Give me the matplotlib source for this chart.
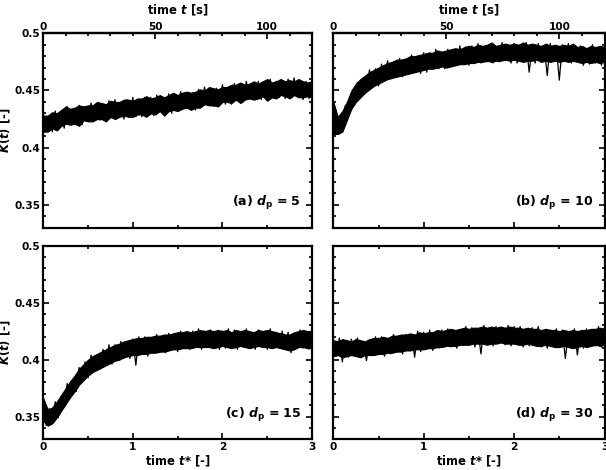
import numpy as np
import matplotlib
matplotlib.use("Agg")
import matplotlib.pyplot as plt
from matplotlib.ticker import MultipleLocator, FuncFormatter

plt.rcParams['font.family'] = ['DejaVu Sans']
plt.rcParams['font.weight'] = 'bold'
plt.rcParams['mathtext.fontset'] = 'custom'
plt.rcParams['mathtext.rm'] = 'DejaVu Sans:bold'
plt.rcParams['mathtext.it'] = 'DejaVu Sans:bold:italic'
plt.rcParams['mathtext.bf'] = 'DejaVu Sans:bold'
plt.rcParams['axes.linewidth'] = 1.6

# time conversion: t [s] = T_SCALE * t* [-]
T_SCALE = 40.0

# ---- raw fluctuating signal, sampled every 1/30 in t* ----
K_a = [.430, .414, .428, .414, .432, .419, .432, .417, .436, .421,
       .433, .420, .437, .420, .436, .423, .439, .426, .438, .424,
       .438, .423, .441, .426, .442, .428, .439, .425, .442, .427,
       .444, .427, .442, .427, .444, .432, .444, .428, .446, .432,
       .443, .431, .447, .430, .446, .433, .449, .436, .448, .434,
       .448, .433, .451, .436, .453, .438, .449, .436, .452, .438,
       .455, .438, .453, .438, .456, .443, .456, .440, .458, .444,
       .455, .442, .458, .442, .457, .444, .460, .446, .458, .444,
       .458, .443, .460, .445, .461, .446, .456, .442, .458, .443,
       .457]

K_b = [.438, .413, .425, .415, .437, .428, .447, .437, .457, .445,
       .461, .449, .468, .456, .469, .454, .473, .460, .476, .460,
       .475, .462, .478, .462, .476, .464, .481, .466, .480, .465,
       .483, .466, .483, .470, .486, .469, .483, .469, .486, .472,
       .485, .472, .489, .475, .488, .472, .489, .475, .491, .474,
       .488, .475, .490, .474, .488, .475, .492, .476, .489, .474,
       .491, .474, .490, .477, .492, .466, .488, .474, .491, .475,
       .488, .463, .491, .477, .489, .459, .490, .476, .491, .474,
       .488, .475, .489, .472, .486, .473, .490, .474, .487, .472,
       .488]

K_c = [.363, .342, .357, .345, .363, .349, .368, .359, .379, .366,
       .382, .372, .393, .382, .398, .384, .404, .390, .404, .392,
       .409, .397, .413, .396, .413, .401, .416, .401, .415, .401,
       .418, .395, .420, .406, .420, .403, .419, .406, .422, .406,
       .419, .406, .423, .409, .423, .407, .425, .410, .423, .409,
       .425, .413, .427, .409, .425, .412, .426, .410, .423, .409,
       .425, .410, .427, .412, .426, .409, .424, .411, .427, .410,
       .423, .409, .426, .412, .425, .409, .427, .411, .424, .410,
       .425, .411, .424, .406, .423, .411, .426, .410, .423, .409,
       .425]

K_d = [.418, .403, .419, .398, .416, .402, .418, .404, .419, .402,
       .415, .399, .417, .404, .420, .405, .420, .403, .418, .405,
       .422, .408, .421, .405, .422, .408, .421, .402, .425, .407,
       .424, .409, .426, .408, .423, .410, .426, .412, .427, .411,
       .424, .410, .426, .413, .429, .414, .428, .411, .426, .405,
       .430, .416, .428, .412, .429, .414, .427, .413, .430, .412,
       .429, .414, .429, .411, .426, .412, .428, .414, .429, .411,
       .424, .410, .426, .412, .427, .412, .426, .401, .424, .410,
       .427, .404, .425, .410, .427, .412, .425, .412, .429, .411,
       .428]

# ---- upper / lower edges of the noise band, sampled every 0.05 in t* ----
Ka_hi = [.428, .428, .431, .430, .433, .436, .434, .435, .437, .436,
         .437, .437, .440, .439, .438, .441, .440, .440, .442, .442,
         .441, .443, .443, .445, .443, .444, .446, .444, .446, .448,
         .446, .448, .449, .448, .449, .451, .450, .453, .452, .451,
         .453, .453, .455, .455, .457, .455, .456, .458, .456, .458,
         .460, .457, .458, .460, .458, .459, .458, .460, .458, .457,
         .458]
Ka_lo = [.414, .414, .417, .415, .419, .421, .420, .421, .419, .424,
         .423, .423, .425, .425, .423, .427, .425, .427, .428, .427,
         .427, .429, .429, .427, .430, .429, .432, .428, .432, .433,
         .432, .434, .435, .433, .435, .435, .438, .437, .437, .436,
         .440, .440, .439, .442, .439, .442, .443, .442, .443, .445,
         .441, .444, .443, .446, .445, .443, .446, .444, .444, .445,
         .444]

Kb_hi = [.440, .427, .432, .440, .450, .456, .460, .463, .466, .468,
         .470, .472, .474, .475, .477, .477, .478, .480, .480, .481,
         .482, .483, .483, .485, .484, .485, .486, .487, .486, .488,
         .489, .488, .490, .489, .490, .492, .489, .490, .491, .490,
         .491, .490, .492, .490, .491, .490, .489, .491, .489, .490,
         .489, .490, .489, .491, .488, .489, .487, .489, .488, .489,
         .488]
Kb_lo = [.412, .412, .414, .424, .434, .440, .444, .448, .451, .454,
         .456, .458, .460, .461, .462, .463, .464, .465, .466, .467,
         .468, .469, .469, .470, .471, .470, .471, .472, .473, .473,
         .474, .474, .475, .475, .476, .475, .476, .476, .477, .476,
         .477, .476, .475, .476, .476, .477, .475, .476, .475, .476,
         .475, .476, .475, .476, .475, .474, .475, .474, .475, .474,
         .475]

Kc_hi = [.366, .356, .358, .363, .369, .375, .381, .386, .392, .396,
         .400, .403, .405, .407, .409, .411, .413, .414, .416, .417,
         .418, .419, .419, .420, .420, .421, .421, .422, .422, .423,
         .424, .424, .425, .424, .425, .426, .425, .426, .425, .426,
         .425, .426, .424, .426, .425, .426, .425, .424, .426, .425,
         .426, .425, .424, .423, .422, .422, .424, .425, .426, .425,
         .425]
Kc_lo = [.346, .342, .344, .349, .355, .361, .367, .372, .378, .382,
         .386, .389, .391, .393, .395, .397, .399, .400, .402, .403,
         .404, .404, .405, .405, .406, .406, .407, .407, .408, .409,
         .409, .410, .410, .410, .411, .411, .411, .411, .410, .411,
         .412, .411, .410, .411, .412, .411, .410, .411, .412, .411,
         .411, .410, .411, .410, .409, .408, .409, .411, .411, .410,
         .411]

Kd_hi = [.417, .416, .418, .417, .416, .418, .417, .416, .418, .419,
         .419, .420, .419, .421, .421, .422, .422, .423, .422, .424,
         .423, .424, .424, .426, .425, .426, .427, .426, .427, .428,
         .427, .428, .428, .429, .428, .429, .428, .429, .428, .429,
         .428, .428, .427, .428, .427, .427, .426, .427, .426, .426,
         .425, .426, .425, .426, .425, .426, .426, .427, .427, .428,
         .427]
Kd_lo = [.403, .404, .402, .403, .404, .403, .402, .404, .404, .404,
         .405, .405, .406, .406, .407, .407, .408, .408, .409, .409,
         .409, .410, .410, .411, .411, .412, .412, .412, .413, .413,
         .413, .414, .414, .414, .413, .414, .414, .415, .414, .414,
         .414, .413, .413, .414, .413, .412, .412, .413, .412, .411,
         .411, .412, .411, .410, .411, .412, .411, .412, .413, .412,
         .413]

panel_labels = [r"(a) $d_{\mathrm{p}}$ = 5", r"(b) $d_{\mathrm{p}}$ = 10",
                r"(c) $d_{\mathrm{p}}$ = 15", r"(d) $d_{\mathrm{p}}$ = 30"]
series = [K_a, K_b, K_c, K_d]
bands = [(Ka_lo, Ka_hi), (Kb_lo, Kb_hi), (Kc_lo, Kc_hi), (Kd_lo, Kd_hi)]

W, H = 606, 470
fig = plt.figure(figsize=(W / 100, H / 100), dpi=100)

def px_box(x0, y0, x1, y1):
    return [x0 / W, 1 - y1 / H, (x1 - x0) / W, (y1 - y0) / H]

boxes = [px_box(43.3, 33.3, 312.0, 227.7), px_box(333.3, 33.3, 604.5, 227.7),
         px_box(43.3, 245.7, 312.0, 439.3), px_box(333.3, 245.7, 604.5, 439.3)]

fs_tick = 7.6
fs_lab = 8.4
yfmt = FuncFormatter(lambda v, p: f"{round(v, 3):g}")

for i, (box, K, (lo, hi), lab) in enumerate(zip(boxes, series, bands, panel_labels)):
    ax = fig.add_axes(box)
    tb = np.linspace(0, 3, len(lo))
    ax.fill_between(tb, lo, hi, color='black', lw=0.8, edgecolor='black')
    tstar = np.linspace(0, 3, len(K))
    ax.plot(tstar, K, color='black', lw=0.9)
    ax.set_xlim(0, 3)
    ax.set_ylim(0.33, 0.5)
    ax.xaxis.set_major_locator(MultipleLocator(1))
    ax.xaxis.set_minor_locator(MultipleLocator(0.5))
    ax.yaxis.set_major_locator(MultipleLocator(0.05))
    ax.yaxis.set_minor_locator(MultipleLocator(0.01))
    ax.yaxis.set_major_formatter(yfmt)
    top_row = i < 2
    left_col = i % 2 == 0
    ax.tick_params(which='both', direction='in', left=True, right=True,
                   bottom=True, top=not top_row, labelsize=fs_tick,
                   labelleft=left_col, labelbottom=not top_row, pad=2,
                   width=1.2)
    ax.tick_params(which='major', length=4)
    ax.tick_params(which='minor', length=2.5)
    for tl in ax.get_xticklabels() + ax.get_yticklabels():
        tl.set_fontweight('bold')
    if left_col:
        cy = box[1] + box[3] / 2
        fig.text(5.5 / W, cy, r"$K(t)$ [-]", rotation=90, ha='center',
                 va='center', fontsize=fs_lab, fontweight='bold')
    if not top_row:
        ax.set_xlabel(r"time $t$* [-]", fontsize=fs_lab, fontweight='bold',
                      labelpad=1)
    else:
        sec = ax.secondary_xaxis('top', functions=(lambda x: x * T_SCALE,
                                                   lambda x: x / T_SCALE))
        sec.xaxis.set_major_locator(MultipleLocator(50))
        sec.xaxis.set_minor_locator(MultipleLocator(10))
        sec.tick_params(which='both', direction='in', labelsize=fs_tick, pad=1,
                        width=1.2)
        sec.tick_params(which='major', length=4)
        sec.tick_params(which='minor', length=2.5)
        for tl in sec.get_xticklabels():
            tl.set_fontweight('bold')
        sec.set_xlabel(r"time $t$ [s]", fontsize=fs_lab, fontweight='bold',
                       labelpad=5.5)
    ax.text(0.96, 0.125, lab, transform=ax.transAxes, ha='right', va='center',
            fontsize=fs_lab + 0.6, fontweight='bold')

fig.savefig("out.png", dpi=100)
